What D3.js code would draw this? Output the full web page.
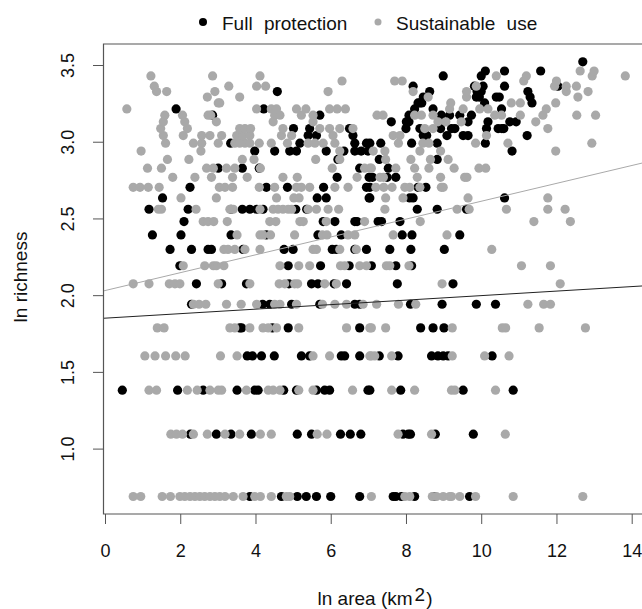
<!DOCTYPE html>
<html>
<head>
<meta charset="utf-8">
<script src="https://cdn.jsdelivr.net/npm/d3@7"></script>
<style>
  html, body { margin: 0; padding: 0; background: #fff; }
  text { font-family: "Liberation Sans", Arial, sans-serif; fill: #111; }
</style>
</head>
<body>
<svg id="root" width="642" height="609"></svg>
<script>
// ln richness levels, one row of areas per level
const lnRichness = [0.693, 1.099, 1.386, 1.609, 1.792, 1.946, 2.079, 2.197, 2.303, 2.398, 2.485, 2.565, 2.639, 2.708, 2.773, 2.833, 2.89, 2.944, 2.996, 3.045, 3.091, 3.135, 3.178, 3.219, 3.258, 3.296, 3.332, 3.367, 3.401, 3.434, 3.466, 3.526]

const fullArea = [
  [3.85, 4.69, 5.11, 5.35, 5.62, 6.0, 6.77, 7.66, 7.73, 7.88, 8.23, 8.75, 9.69],
  [2.27, 2.96, 3.35, 3.89, 5.11, 5.49, 6.26, 6.52, 6.8, 7.92, 8.06, 8.12, 8.78, 9.79],
  [0.46, 1.93, 2.61, 3.51, 3.98, 4.07, 4.75, 5.09, 5.62, 5.84, 5.97, 6.99, 7.04, 7.86, 9.52, 10.85],
  [3.78, 3.92, 4.16, 4.5, 5.22, 5.44, 6.28, 6.37, 6.77, 7.29, 7.79, 8.68, 8.85, 8.99, 9.12, 10.29],
  [3.58, 3.63, 4.45, 4.87, 6.77, 8.39, 8.72, 9.01],
  [2.3, 4.19, 4.38, 4.96, 5.71, 6.64, 6.77, 8.12, 8.96, 9.87, 10.38],
  [2.43, 3.1, 3.76, 4.89, 5.49, 5.66, 6.09, 6.42, 7.77, 9.25],
  [1.99, 4.87, 5.73, 6.49, 7.08, 7.73, 8.15],
  [1.73, 2.3, 2.74, 2.83, 3.67, 4.76, 5.0, 6.04, 6.15, 6.64, 6.95, 7.57, 8.13, 9.02],
  [1.26, 2.02, 3.35, 4.29, 5.66, 6.28, 7.9, 8.16, 9.43],
  [2.1, 5.8, 6.11, 6.64, 6.7, 7.26, 7.35, 7.84],
  [1.17, 2.21, 3.35, 3.65, 3.85, 4.03, 4.2, 5.07, 5.36, 8.3, 8.83, 9.61],
  [1.53, 5.64, 5.88, 7.02, 7.04, 8.1, 8.19, 10.62],
  [2.26, 4.29, 4.85, 5.81, 6.95, 7.04, 8.32, 8.53],
  [6.17, 7.02, 7.11, 7.5, 7.73],
  [3.01, 3.65, 4.1, 6.77, 7.53],
  [6.19, 7.29, 8.83],
  [3.98, 4.51, 4.91, 5.09, 5.88, 6.35, 6.64, 6.81, 6.99, 10.82],
  [3.34, 5.18, 6.64, 6.95, 7.04, 7.33, 8.15, 8.83, 10.11],
  [5.4, 5.62, 6.59, 8.46, 8.55, 9.09, 9.52, 9.65, 11.22],
  [5.01, 5.44, 6.5, 8.0, 8.37, 8.92, 9.21, 9.3, 10.14, 10.45, 10.55, 10.6],
  [7.61, 8.01, 8.08, 9.65, 10.18, 10.76, 10.93],
  [2.86, 5.71, 8.08, 8.94, 9.16, 9.43, 9.74],
  [1.89, 4.22, 8.23, 8.72, 10.54],
  [8.37, 8.32, 8.42, 10.09, 11.35],
  [8.46, 9.87, 9.95, 10.4, 10.48, 11.3],
  [4.58, 8.63, 9.89, 10.0, 11.24],
  [8.19, 9.82, 10.05, 10.62, 12.04],
  [],
  [8.99, 10.0],
  [10.11, 10.62, 11.58],
  [12.7]
]

const sustArea = [
  [0.75, 0.95, 1.52, 1.74, 1.99, 2.12, 2.26, 2.39, 2.52, 2.65, 2.79, 2.92, 3.05, 3.19, 3.41, 3.67, 3.98, 4.13, 4.42, 4.82, 4.91, 7.08, 7.97, 8.1, 8.7, 8.81, 8.99, 9.16, 9.21, 9.43, 9.85, 10.85, 12.7],
  [1.75, 1.9, 2.06, 2.35, 2.72, 3.19, 3.58, 4.13, 4.42, 5.64, 5.9, 7.79, 8.68, 10.64],
  [1.17, 1.37, 2.19, 2.45, 2.79, 3.01, 3.1, 3.76, 4.34, 4.47, 4.65, 5.15, 5.53, 6.58, 7.62, 8.23, 9.21, 9.3, 10.38],
  [1.06, 1.33, 1.61, 1.88, 2.13, 3.07, 3.51, 5.53, 5.97, 7.04, 7.08, 7.17, 7.62, 9.23, 10.09, 10.74],
  [1.39, 1.57, 3.32, 3.45, 3.85, 4.2, 4.34, 4.56, 5.15, 6.42, 7.04, 7.08, 7.46, 9.23, 10.56, 10.65, 11.54, 12.77],
  [2.35, 2.5, 2.68, 3.23, 3.62, 4.03, 4.51, 4.65, 5.09, 5.78, 6.11, 6.42, 6.86, 7.22, 7.8, 8.26, 11.24, 11.66, 11.84],
  [0.75, 1.17, 1.71, 1.86, 1.99, 3.01, 3.85, 4.63, 4.78, 5.04, 5.12, 5.84, 6.15, 8.96, 12.1],
  [2.08, 2.65, 2.88, 2.96, 3.16, 4.65, 5.15, 5.44, 6.26, 6.37, 6.77, 6.95, 7.48, 7.57, 8.08, 11.07, 11.84],
  [3.16, 3.27, 3.45, 3.72, 4.12, 5.53, 5.62, 6.24, 6.68, 10.28],
  [3.51, 4.12, 4.2, 4.4, 5.04, 5.78, 5.9, 6.46, 6.64, 7.66, 9.09],
  [2.61, 2.74, 2.89, 3.25, 4.38, 4.54, 5.18, 5.27, 5.88, 6.9, 8.38, 11.4, 12.37],
  [1.42, 1.5, 2.42, 3.32, 3.41, 4.12, 4.47, 4.6, 4.73, 4.87, 4.96, 5.4, 5.62, 5.93, 6.21, 7.44, 9.36, 9.68, 10.67, 11.77, 12.23],
  [2.02, 2.96, 4.56, 5.02, 5.16, 7.46, 7.92, 9.65, 11.77],
  [0.75, 0.93, 1.15, 1.44, 3.04, 3.19, 3.39, 4.1, 4.51, 5.09, 5.22, 5.44, 6.11, 6.46, 7.2, 7.41, 7.63, 7.97, 8.1, 8.37, 8.94, 8.99],
  [1.8, 2.39, 2.83, 3.39, 3.78, 4.73, 5.11, 6.7, 7.31, 7.4, 8.3, 8.92, 9.56, 9.62],
  [1.13, 1.5, 2.7, 2.88, 3.23, 3.45, 4.13, 6.04, 6.9, 7.04, 7.08, 7.73, 8.23, 8.61, 9.28, 9.94, 10.12],
  [1.66, 2.23, 3.65, 3.96, 5.6, 6.24, 7.46, 8.13, 8.65, 9.12],
  [0.96, 2.55, 6.24, 7.13, 7.44, 8.37, 8.92, 11.98],
  [1.61, 2.35, 2.57, 3.01, 3.45, 3.58, 3.72, 3.85, 4.1, 4.42, 4.85, 5.4, 5.58, 5.8, 6.11, 7.8, 8.45, 8.61, 9.85, 10.71, 12.94],
  [1.55, 2.08, 2.57, 2.79, 3.1, 3.5, 3.67, 3.85, 4.69, 4.96, 6.06, 7.66, 7.84, 10.14],
  [1.48, 2.19, 3.58, 3.72, 3.87, 4.73, 5.71, 5.97, 6.24, 6.59, 8.5, 8.72, 11.77],
  [1.55, 2.12, 2.96, 4.47, 5.53, 8.85, 9.06, 9.47, 11.45],
  [1.59, 2.06, 2.74, 2.81, 4.51, 4.65, 5.22, 5.53, 7.23, 7.39, 8.23, 8.41, 8.72, 10.36, 10.54, 11.04, 11.64, 12.54, 13.04],
  [0.58, 4.03, 4.42, 4.56, 5.09, 5.34, 5.97, 6.17, 6.39, 9.16, 9.52, 9.96, 10.18, 11.73],
  [3.01, 3.05, 9.19, 10.8, 11.04, 11.98],
  [2.72, 3.58, 8.59, 9.61, 12.57],
  [1.37, 1.64, 2.92, 5.93, 8.19, 9.61, 12.26, 12.84],
  [1.31, 3.29, 4.03, 4.27, 9.87, 11.95, 12.26, 12.53],
  [6.3, 7.7, 7.9, 11.13, 12.0],
  [1.22, 2.86, 4.12, 10.4, 11.2, 12.95, 13.83],
  [12.63, 13.0],
  []
]

const xTicks = [0, 2, 4, 6, 8, 10, 12, 14]
const yTicks = [1.0, 1.5, 2.0, 2.5, 3.0, 3.5]

// fitted lines, intercept and slope
const fullFit = [1.85, 0.0147]
const sustFit = [2.03, 0.0582]

const root = d3.select('#root')

let x = d3.scaleLinear().domain([0, 14]).range([105, 631.7])
let y = d3.scaleLinear().domain([1, 3.5]).range([448.6, 65])

const clip = root.append('clipPath').attr('id', 'plot')
clip.append('rect').attr('x', 103).attr('y', 44).attr('width', 540).attr('height', 470)

function points (rows, color) {
  const pts = rows.flatMap((r, i) => r.map((a) => [a, lnRichness[i]]))
  root.append('g').selectAll('circle').data(pts).enter().append('circle')
    .attr('cx', (d) => x(d[0]))
    .attr('cy', (d) => y(d[1]) + 0.8)
    .attr('r', 4.6)
    .attr('fill', color)
}

points(fullArea, '#000')
points(sustArea, '#a9a9a9')

function fitLine (fit, color) {
  const xs = x.invert(103)
  const xe = x.invert(642)
  root.append('line')
    .attr('clip-path', 'url(#plot)')
    .attr('x1', x(xs)).attr('y1', y(fit[0] + fit[1] * xs))
    .attr('x2', x(xe)).attr('y2', y(fit[0] + fit[1] * xe))
    .attr('stroke', color)
    .attr('stroke-width', 1)
}

fitLine(sustFit, '#a9a9a9')
fitLine(fullFit, '#222')

// box
root.append('path')
  .attr('d', 'M643,44H103.5V514H643')
  .attr('fill', 'none')
  .attr('stroke', '#555')
  .attr('stroke-width', 1.2)

const xAxis = root.append('g').attr('transform', 'translate(0,514)')
  .call(d3.axisBottom(x).tickValues(xTicks).tickSize(10).tickPadding(20).tickFormat(d3.format('d')))
xAxis.select('.domain').remove()
xAxis.selectAll('line').attr('stroke', '#555')
xAxis.selectAll('text').attr('font-size', 18).attr('font-family', '"Liberation Sans", Arial, sans-serif').style('fill', '#111')

const yAxis = root.append('g').attr('transform', 'translate(103,0)')
  .call(d3.axisLeft(y).tickValues(yTicks).tickSize(10).tickFormat(d3.format('.1f')))
yAxis.select('.domain').remove()
yAxis.selectAll('line').attr('stroke', '#555')
yAxis.selectAll('text')
  .attr('font-size', 18)
  .attr('font-family', '"Liberation Sans", Arial, sans-serif')
  .attr('text-anchor', 'middle')
  .attr('x', -35)
  .attr('y', 0)
  .attr('dy', '0.35em')
  .attr('transform', 'rotate(-90,-35,0)')
  .style('fill', '#111')

// axis titles
const xt = root.append('text').attr('x', 375).attr('y', 605).attr('text-anchor', 'middle').attr('font-size', 19)
xt.append('tspan').text('ln area (km')
xt.append('tspan').text('2').attr('dy', -4).attr('dx', 2)
xt.append('tspan').text(')').attr('dy', 4).attr('dx', 1)

root.append('text')
  .attr('transform', 'translate(27,277) rotate(-90)')
  .attr('text-anchor', 'middle')
  .attr('font-size', 19)
  .text('ln richness')

// legend
root.append('circle').attr('cx', 203).attr('cy', 22).attr('r', 4).attr('fill', '#000')
root.append('circle').attr('cx', 378).attr('cy', 22).attr('r', 3.5).attr('fill', '#a9a9a9')
root.append('text').attr('x', 222).attr('y', 30).attr('font-size', 19).attr('word-spacing', 6).text('Full protection')
root.append('text').attr('x', 396).attr('y', 30).attr('font-size', 19).attr('word-spacing', 6).text('Sustainable use')
</script>
</body>
</html>
